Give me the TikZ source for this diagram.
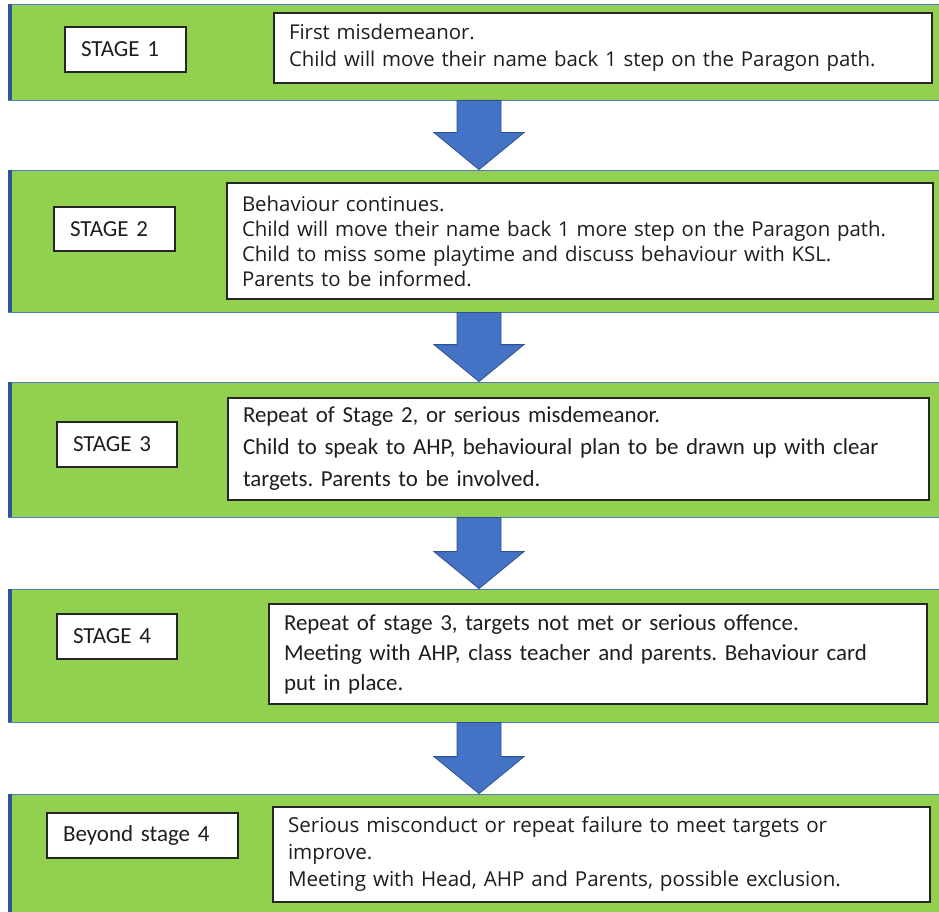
\documentclass[tikz,border=0pt]{standalone}
\usepackage{fontspec}
\setmainfont{Carlito}
\newfontfamily\tahfont{Open Sans}
\usetikzlibrary{calc}
\definecolor{bandgreen}{RGB}{146,208,80}
\definecolor{bandline}{RGB}{84,122,190}
\definecolor{edgeblue}{RGB}{47,85,151}
\definecolor{arrowfill}{RGB}{68,114,196}
\definecolor{arrowline}{RGB}{47,82,143}
\definecolor{txt}{RGB}{30,30,30}
\frenchspacing
\begin{document}
\begin{tikzpicture}[x=1pt,y=-1pt,
  band/.style={draw=bandline, line width=0.8pt, fill=bandgreen, minimum width=933pt, inner sep=0pt},
  stagebox/.style={draw=black!85, line width=1.2pt, fill=white, inner xsep=16pt, inner ysep=0pt, align=left, text=txt, font=\fontsize{23}{26}\selectfont},
  textbox/.style={draw=black!85, line width=1.2pt, fill=white, inner xsep=15pt, inner ysep=0pt, align=left, text=txt},
  downarrow/.style={fill=arrowfill, draw=arrowline, line width=0.8pt, line join=miter}
]
\useasboundingbox (0,0) rectangle (939,912);
\fill[white] (0,0) rectangle (939,912);

% bands
\node[band, minimum height=96pt]  (b1) at (474.5,52) {};
\node[band, minimum height=142pt] (b2) at (474.5,241) {};
\node[band, minimum height=135pt] (b3) at (474.5,449.5) {};
\node[band, minimum height=133pt] (b4) at (474.5,655.5) {};
\node[band, minimum height=124pt] (b5) at (474.5,856) {};
\foreach \b in {b1,b2,b3,b4,b5}
  \draw[edgeblue, line width=4pt] ([xshift=2pt]\b.north west) -- ([xshift=2pt]\b.south west);

% arrows between bands
\foreach \u/\v in {b1/b2,b2/b3,b3/b4,b4/b5}
  \draw[downarrow] let \p1=(\u.south), \p2=(\v.north) in
    (457,\y1) -- (501,\y1) -- (501,\y2+37pt) -- (524,\y2+37pt) -- (479,\y2)
    -- (434,\y2+37pt) -- (457,\y2+37pt) -- cycle;

% stage labels
\node[stagebox, minimum width=121pt, minimum height=45pt, text width=89pt] (s1) at (125.5,49.5) {STAGE 1};
\node[stagebox, minimum width=121pt, minimum height=44pt, text width=89pt] (s2) at (114.5,229) {STAGE 2};
\node[stagebox, minimum width=120pt, minimum height=45pt, text width=88pt] (s3) at (117,444.5) {STAGE 3};
\node[stagebox, minimum width=120pt, minimum height=45pt, text width=88pt] (s4) at (117,636.5) {STAGE 4};
\node[stagebox, minimum width=191pt, minimum height=45pt, text width=159pt] (s5) at (142.5,835.5) {Beyond stage 4};

% descriptions
\node[textbox, minimum width=658pt, minimum height=70pt, text width=628pt, font=\fontsize{20.4}{27}\tahfont] (t1) at (603,48)
  {First misdemeanor.\\Child will move their name back 1 step on the Paragon path.};
\node[textbox, minimum width=706pt, minimum height=116pt, text width=676pt, font=\fontsize{20.4}{25}\tahfont] (t2) at (580,241)
  {Behaviour continues.\\Child will move their name back 1 more step on the Paragon path.\\Child to miss some playtime and discuss behaviour with KSL.\\Parents to be informed.};
\node[textbox, minimum width=701pt, minimum height=102pt, text width=671pt, font=\fontsize{22.9}{32}\selectfont] (t3) at (578.5,449)
  {Repeat of Stage 2, or serious misdemeanor.\\Child to speak to AHP, behavioural plan to be drawn up with clear\\targets. Parents to be involved.};
\node[textbox, minimum width=658pt, minimum height=100pt, text width=628pt, font=\fontsize{22.9}{30}\selectfont] (t4) at (598,654)
  {Repeat of stage 3, targets not met or serious offence.\\Meeting with AHP, class teacher and parents. Behaviour card\\put in place.};
\node[textbox, minimum width=657pt, minimum height=95pt, text width=627pt, font=\fontsize{20.6}{27}\tahfont] (t5) at (601.5,854.5)
  {Serious misconduct or repeat failure to meet targets or\\improve.\\Meeting with Head, AHP and Parents, possible exclusion.};
\end{tikzpicture}
\end{document}
